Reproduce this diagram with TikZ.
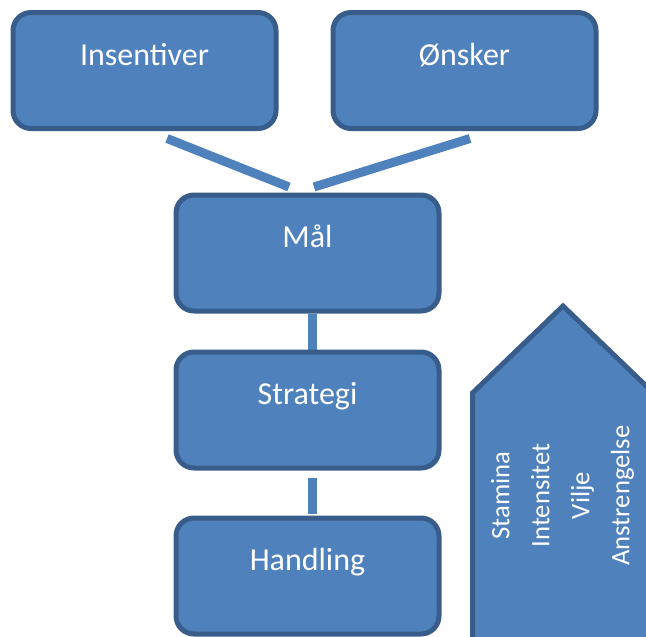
\documentclass[tikz,border=0pt]{standalone}
\usepackage{fontspec}
\setmainfont{Carlito}
\usetikzlibrary{calc,backgrounds}
\definecolor{boxfill}{HTML}{4F81BD}
\definecolor{boxline}{HTML}{385D8A}
\begin{document}
\begin{tikzpicture}[x=0.75pt,y=-0.75pt,
  stepbox/.style={draw=boxline, fill=boxfill, line width=3.75pt,
    rounded corners=13.5pt, inner sep=0pt, minimum width=197.25pt,
    text height=39.4pt, text depth=47.6pt, text=white,
    font=\fontsize{24}{29}\selectfont},
  link/.style={draw=boxfill, line width=6.75pt},
  effortlabel/.style={rotate=90, align=center, text=white, inner sep=0pt,
    font=\fontsize{20}{30}\selectfont}]
\useasboundingbox (0,0) rectangle (646,636);

% goal chain
\node[stepbox] (insentiver) at (144.5,70.5) {Insentiver};
\node[stepbox] (onsker)     at (464.5,70.5) {Ønsker};
\node[stepbox] (mal)        at (307.5,253)  {Mål};
\node[stepbox] (strategi)   at (307.5,410)  {Strategi};
\node[stepbox] (handling)   at (307.5,576)  {Handling};

% connecting bars, kept behind the boxes
\begin{scope}[on background layer]
  \draw[link] ($(insentiver.south)+(22.5,7.5)$) -- ($(mal.north)+(-18.5,-5.5)$);
  \draw[link] ($(onsker.south)+(5.5,7.5)$) -- ($(mal.north)+(6.5,-5.5)$);
  \draw[link] ([xshift=3.75pt]mal.south) -- ([xshift=3.75pt]strategi.north);
  \draw[link, shorten <=5.25pt, shorten >=1.5pt]
    ([xshift=3.75pt]strategi.south) -- ([xshift=3.75pt]handling.north);
\end{scope}

% upward arrow on the right, running off the page edge
\begin{scope}
  \clip (0,0) rectangle (646,636);
  \draw[draw=boxline, fill=boxfill, line width=3.75pt]
    (472.5,660) -- (472.5,393) -- (563,306) -- (653.5,393) -- (653.5,660) -- cycle;
\end{scope}
\node[effortlabel] (effort) at (562.5,495.5) {Stamina\\Intensitet\\Vilje\\Anstrengelse};
\end{tikzpicture}
\end{document}
